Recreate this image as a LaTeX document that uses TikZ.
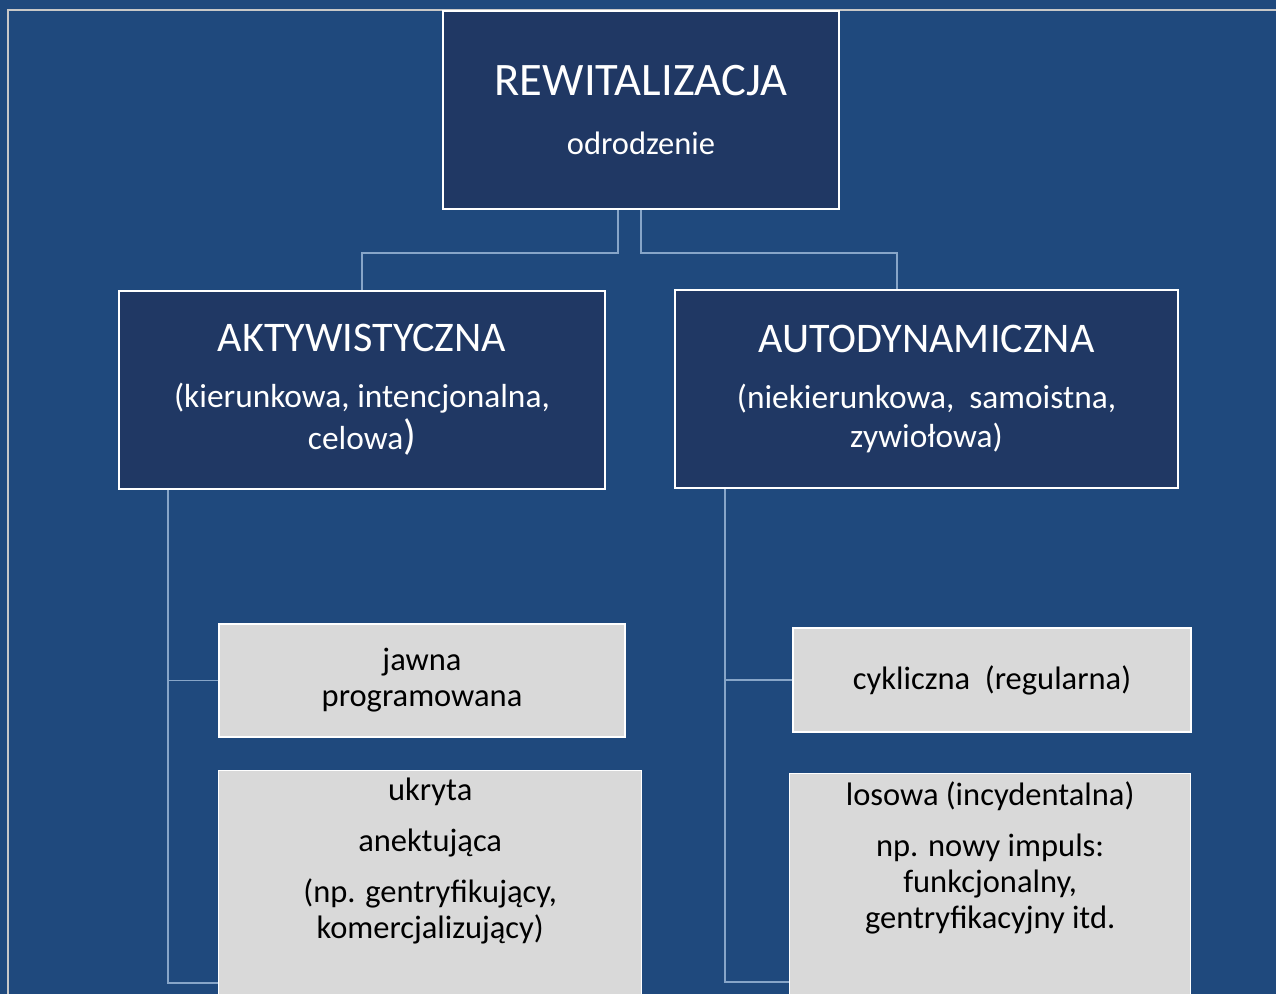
\documentclass[tikz,border=0pt]{standalone}
\usepackage{fontspec}
\setmainfont{Carlito}
\usepackage{xcolor}
\usepackage{tikz}
\usetikzlibrary{positioning}

\definecolor{slideblue}{RGB}{31,73,125}
\definecolor{boxnavy}{RGB}{32,56,100}
\definecolor{leafgray}{RGB}{217,217,217}
\definecolor{framegray}{RGB}{200,200,200}
\definecolor{linkblue}{RGB}{135,165,200}

\newcommand{\titlefont}{\fontsize{24}{28}\selectfont}

\begin{document}
\begin{tikzpicture}[x=0.02cm,y=-0.02cm,
            navybox/.style={draw=white, line width=1.5pt, fill=boxnavy, text=white, align=center, inner sep=0pt,
                            font=\fontsize{19}{24}\selectfont},
            leafbox/.style={draw=white, line width=0.8pt, fill=leafgray, text=black, align=center, inner sep=0pt,
                            font=\fontsize{18.5}{20.5}\selectfont},
            leaftext/.style={align=center, inner sep=0pt, text=black, font=\fontsize{18.5}{20.5}\selectfont},
            link/.style={draw=linkblue, line width=1pt}]
        \useasboundingbox (0,0) rectangle (1276,994);
        \clip (0,0) rectangle (1276,994);
        \fill[slideblue] (0,0) rectangle (1276,994);
        \draw[framegray, line width=1.7pt] (8,1000) -- (8,10) -- (1280,10);

        % top level
        \node[navybox, font=\fontsize{18.5}{22}\selectfont, minimum width=7.92cm, minimum height=3.96cm] (rewit) at (641,110)
            {\fontsize{26.5}{30}\selectfont REWITALIZACJA\\[12pt] odrodzenie};

        % two kinds
        \node[navybox, minimum width=9.72cm, minimum height=3.96cm] (aktyw) at (362,390)
            {\titlefont AKTYWISTYCZNA\\[8pt]
             (kierunkowa, intencjonalna,\\ celowa{\titlefont)}};
        \node[navybox, font=\fontsize{19}{22}\selectfont, minimum width=10.06cm, minimum height=3.96cm] (autod) at (926.5,389)
            {\titlefont AUTODYNAMICZNA\\[10pt]
             (niekierunkowa,~ samoistna,\\ zywiołowa)};

        % leaves
        \node[leafbox, minimum width=8.12cm, minimum height=2.26cm] (jawna) at (422,680.5)
            {jawna\\ programowana};
        \node[leafbox, minimum width=8.46cm, minimum height=6cm, anchor=north west] (ukryta) at (218,770) {};
        \node[leaftext, below=4.5pt of ukryta.north] (ukrytatxt)
            {ukryta\\[8.5pt] anektująca\\[8.5pt] (np. gentryfikujący,\\ komercjalizujący)};

        \node[leafbox, minimum width=7.96cm, minimum height=2.08cm] (cykl) at (992,680)
            {cykliczna~ (regularna)};
        \node[leafbox, minimum width=8.02cm, minimum height=6cm, anchor=north west] (losowa) at (789,773) {};
        \node[leaftext, below=5pt of losowa.north] (losowatxt)
            {losowa (incydentalna)\\[8.5pt] np. nowy impuls:\\ funkcjonalny,\\ gentryfikacyjny itd.};

        % connectors
        \coordinate (joinL) at (618,253);
        \coordinate (joinR) at (897,253);
        \draw[link] (rewit.south -| joinL) -- (joinL) -| (aktyw.north);
        \draw[link] (rewit.south) |- (joinR) -- (joinR |- autod.north);

        \coordinate (spineL) at (168,983);
        \coordinate (spineR) at (725,982);
        \draw[link] (aktyw.south -| spineL) -- (spineL) -- (spineL -| ukryta.west);
        \draw[link] (jawna.west) -- (jawna.west -| spineL);
        \draw[link] (autod.south -| spineR) -- (spineR) -- (spineR -| losowa.west);
        \draw[link] (cykl.west) -- (cykl.west -| spineR);
    \end{tikzpicture}
\end{document}
